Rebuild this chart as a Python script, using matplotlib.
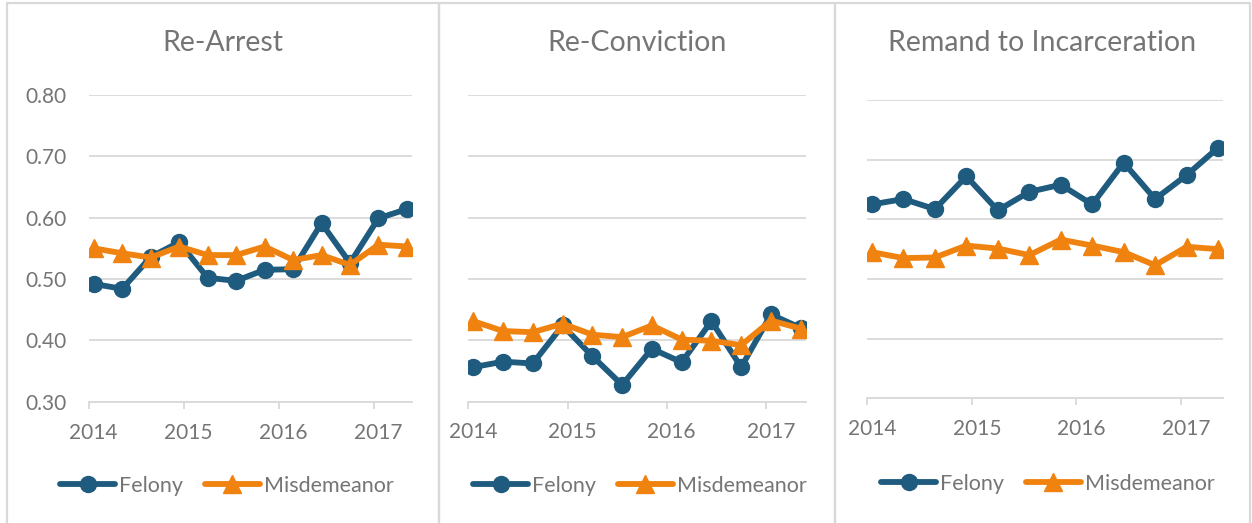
import matplotlib.pyplot as plt
from matplotlib.lines import Line2D

# x positions (decimal years) of the 12 data points
dates = [2014.05, 2014.35, 2014.65, 2014.95, 2015.25, 2015.55,
         2015.85, 2016.15, 2016.45, 2016.75, 2017.05, 2017.35]
years = [2014, 2015, 2016, 2017]
year_labels = ['2014', '2015', '2016', '2017']

titles = ['Re-Arrest', 'Re-Conviction', 'Remand to Incarceration']

felony_arrest = [0.492, 0.484, 0.536, 0.560, 0.502, 0.497, 0.515, 0.516, 0.591, 0.526, 0.599, 0.614]
misd_arrest = [0.550, 0.542, 0.535, 0.553, 0.539, 0.539, 0.553, 0.531, 0.539, 0.523, 0.556, 0.553]

felony_conv = [0.356, 0.365, 0.362, 0.424, 0.374, 0.327, 0.386, 0.364, 0.431, 0.356, 0.442, 0.420]
misd_conv = [0.431, 0.415, 0.413, 0.427, 0.409, 0.405, 0.424, 0.401, 0.399, 0.392, 0.432, 0.419]

felony_remand = [0.625, 0.634, 0.617, 0.672, 0.615, 0.646, 0.658, 0.625, 0.695, 0.634, 0.674, 0.720]
misd_remand = [0.545, 0.535, 0.536, 0.556, 0.551, 0.540, 0.566, 0.556, 0.545, 0.523, 0.554, 0.550]

felony_all = [felony_arrest, felony_conv, felony_remand]
misd_all = [misd_arrest, misd_conv, misd_remand]

BLUE = '#1F5B7E'
ORANGE = '#F0820F'
GRID = '#D9D9D9'
TEXT = '#757575'

plt.rcParams['font.family'] = ['Lato', 'DejaVu Sans']

W, H = 1252, 523
fig = plt.figure(figsize=(W / 100, H / 100), dpi=100)


def frac(left, top, right, bottom):
    return [left / W, 1 - bottom / H, (right - left) / W, (bottom - top) / H]


# panel frames: (left, top, right, bottom) in pixels
boxes = [(7, 3, 438.5, 530), (439, 3, 835, 530), (835, 3, 1250, 521.5)]
# plot areas
areas = [(89, 95, 411.7, 401.7), (468.3, 95, 805.7, 401.5), (866.7, 100, 1223.3, 398.3)]
legend_pos = [(227, 486), (640, 486), (1048, 483.5)]

for b in boxes:
    l, t, r, bt = b
    xs = [l, l, r, r]
    ys = [bt, t, t, bt]
    fig.add_artist(Line2D([x / W for x in xs], [1 - y / H for y in ys],
                          color=GRID, lw=1.6, transform=fig.transFigure))

for i in range(3):
    ax = fig.add_axes(frac(*areas[i]))
    ax.plot(dates, felony_all[i], color=BLUE, lw=4.2, marker='o', ms=11.5,
            label='Felony', solid_capstyle='round', zorder=3)
    ax.plot(dates, misd_all[i], color=ORANGE, lw=4.2, marker='^', ms=12.5,
            label='Misdemeanor', solid_capstyle='round', zorder=4)
    ax.set_xlim(2014, 2017.4)
    ax.set_ylim(0.3, 0.8)
    ax.set_yticks([0.3, 0.4, 0.5, 0.6, 0.7, 0.8])
    ax.grid(axis='y', color=GRID, lw=1.3)
    ax.set_axisbelow(True)
    for s in ['top', 'right', 'left']:
        ax.spines[s].set_visible(False)
    ax.spines['bottom'].set_color(GRID)
    ax.spines['bottom'].set_linewidth(1.3)
    ax.set_xticks(years)
    ax.set_xticklabels([''] * 4)
    ax.tick_params(axis='x', which='major', length=5, width=1.3, color=GRID)
    ax.set_xticks([y + 0.05 for y in years], year_labels, minor=True)
    ax.tick_params(axis='x', which='minor', length=0, pad=15, labelsize=15, labelcolor=TEXT)
    if i == 0:
        ax.set_yticklabels(['%.2f' % v for v in ax.get_yticks()])
        ax.tick_params(axis='y', length=0, pad=16, labelsize=15, labelcolor=TEXT)
    else:
        ax.tick_params(axis='y', length=0, labelleft=False)
    l, t, r, bt = boxes[i]
    fig.text((l + r) / 2 / W, 1 - 43 / H, titles[i], ha='center', va='center',
             fontsize=20.5, color=TEXT)
    cx, cy = legend_pos[i]
    ax.legend(loc='center', bbox_to_anchor=(cx / W, 1 - cy / H), bbox_transform=fig.transFigure,
              ncol=2, frameon=False, fontsize=15.5, labelcolor=TEXT, handlelength=2.55,
              handletextpad=0.2, columnspacing=1.0, borderpad=0)

fig.savefig('out.png', dpi=100)
